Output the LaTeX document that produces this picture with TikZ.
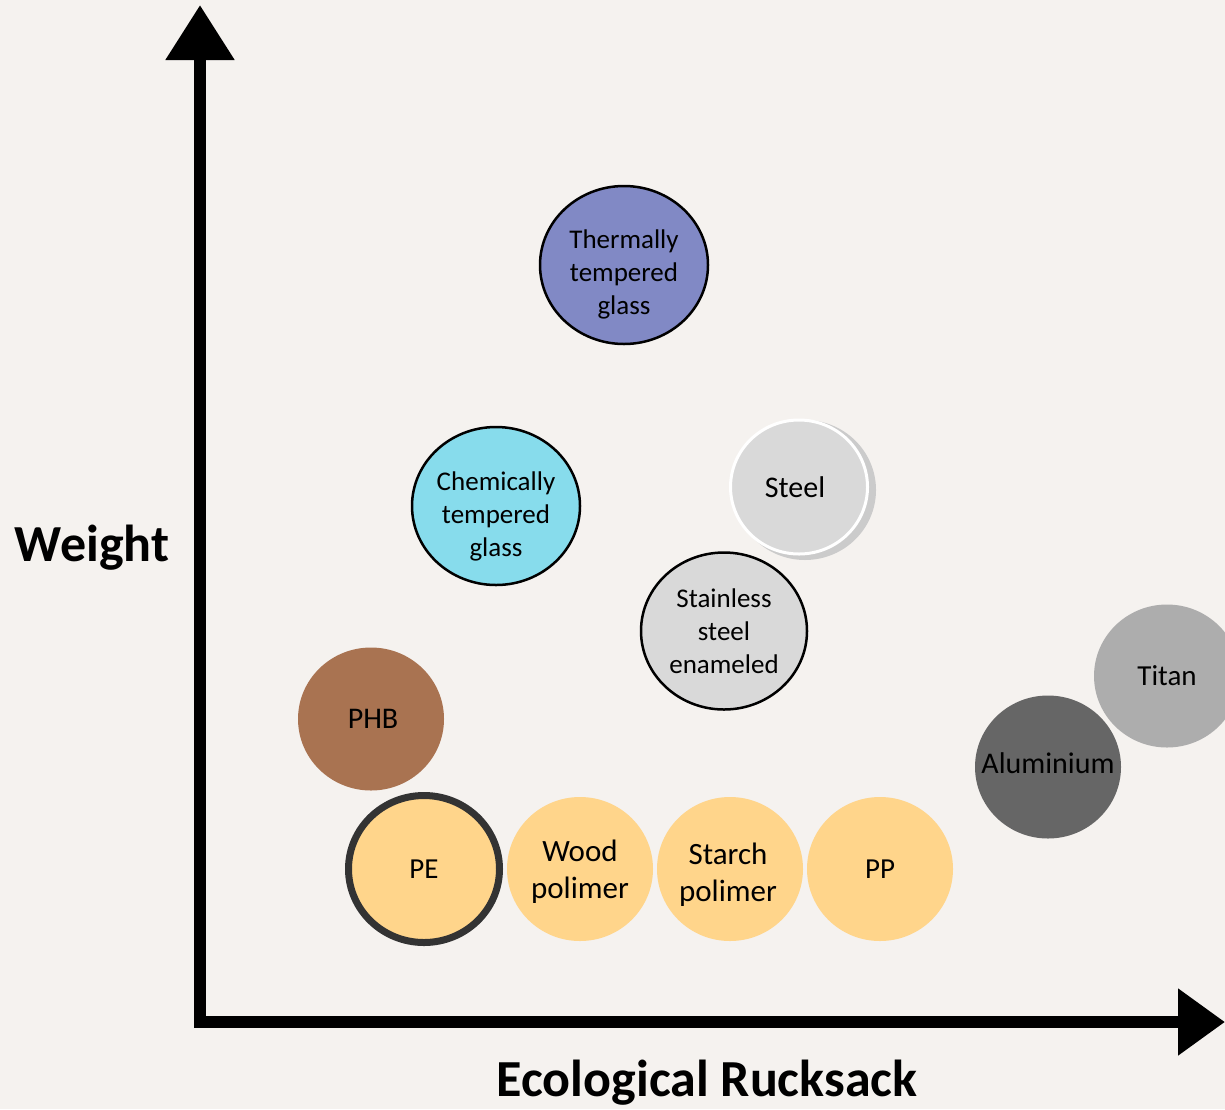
\documentclass[tikz,border=0pt]{standalone}
\usepackage{fontspec}
\setmainfont{Carlito}
\usetikzlibrary{arrows.meta,shapes.geometric}
\definecolor{bg}{HTML}{F5F2EF}
\definecolor{thermal}{HTML}{8189C5}
\definecolor{chem}{HTML}{87DCEC}
\definecolor{phb}{HTML}{A97351}
\definecolor{yel}{HTML}{FFD58B}
\definecolor{alu}{HTML}{666666}
\definecolor{titan}{HTML}{ADADAD}
\definecolor{steelc}{HTML}{D9D9D9}
\definecolor{shadowc}{HTML}{CBCBCB}
\definecolor{pebord}{HTML}{333333}
\tikzset{
  bubble/.style={ellipse, inner sep=0pt},
  outlined/.style={bubble, draw=black, line width=2.5pt},
  plain/.style={bubble, draw=none},
  lbl/.style={align=center, text=black, inner sep=0pt},
  axislabel/.style={font=\fontsize{52}{60}\selectfont\bfseries, text=black, inner sep=0pt},
  axisline/.style={line width=12pt, line join=miter, black}
}
\begin{document}
\begin{tikzpicture}[x=1pt,y=-1pt]
\fill[bg] (0,0) rectangle (1225,1109);
\useasboundingbox (0,0) rectangle (1225,1109);
\clip (0,0) rectangle (1225,1109);

% axes
\coordinate (ytop) at (200,5);
\coordinate (origin) at (200,1022);
\coordinate (xend) at (1225,1022);
\draw[axisline, {Triangle[length=55pt,width=66pt]}-{Triangle[length=47pt,width=64pt]}] (ytop) -- (origin) -- (xend);

\node[axislabel, anchor=base] (wlabel) at (92,561) {Weight};
\node[axislabel, anchor=base] (xlabel) at (707,1096) {Ecological Rucksack};

% bubbles
\node[outlined, fill=thermal, minimum width=168pt, minimum height=158pt] (ttg) at (624,265) {};
\node[lbl, font=\fontsize{27}{33}\selectfont] (ttgl) at ([yshift=-9pt]ttg.center) {Thermally\\tempered\\glass};

\node[outlined, fill=chem, minimum width=168pt, minimum height=158pt] (ctg) at (496,506) {};
\node[lbl, font=\fontsize{27}{33}\selectfont] (ctgl) at ([yshift=-10pt]ctg.center) {Chemically\\tempered\\glass};

\fill[shadowc] (805,490) ellipse [x radius=71pt, y radius=70pt];
\node[bubble, fill=steelc, draw=white, line width=3pt, minimum width=137pt, minimum height=134pt] (steel) at (799,487) {};
\node[lbl, font=\fontsize{30}{36}\selectfont] (steell) at ([xshift=-4pt]steel.center) {Steel};

\node[outlined, fill=steelc, minimum width=166pt, minimum height=157pt] (sse) at (724,631) {};
\node[lbl, font=\fontsize{27}{33}\selectfont] (ssel) at (sse.center) {Stainless\\steel\\enameled};

\node[plain, fill=phb, minimum width=146pt, minimum height=143pt] (phb) at (371,719) {};
\node[lbl, font=\fontsize{30}{36}\selectfont] (phbl) at ([xshift=2pt]phb.center) {PHB};

\node[bubble, fill=yel, draw=pebord, line width=7pt, minimum width=151pt, minimum height=147pt] (pe) at (424,869) {};
\node[lbl, font=\fontsize{29}{35}\selectfont] (pel) at (pe.center) {PE};

\node[plain, fill=yel, minimum width=146pt, minimum height=144pt] (wood) at (580,869) {};
\node[lbl, font=\fontsize{31}{37}\selectfont] (woodl) at ([yshift=-3pt]wood.center) {Wood\\polimer};

\node[plain, fill=yel, minimum width=146pt, minimum height=144pt] (starch) at (730,869) {};
\node[lbl, font=\fontsize{31}{37}\selectfont] (starchl) at ([xshift=-2pt,yshift=-6pt]starch.center) {Starch\\polimer};

\node[plain, fill=yel, minimum width=146pt, minimum height=144pt] (pp) at (880,869) {};
\node[lbl, font=\fontsize{29}{35}\selectfont] (ppl) at (pp.center) {PP};

\node[plain, fill=alu, minimum width=146pt, minimum height=143pt] (alu) at (1048,767) {};
\node[lbl, font=\fontsize{30}{36}\selectfont] (alul) at ([yshift=4pt]alu.center) {Aluminium};

\node[plain, fill=titan, minimum width=146pt, minimum height=143pt] (titan) at (1167,676) {};
\node[lbl, font=\fontsize{29}{35}\selectfont] (titanl) at (titan.center) {Titan};
\end{tikzpicture}
\end{document}
